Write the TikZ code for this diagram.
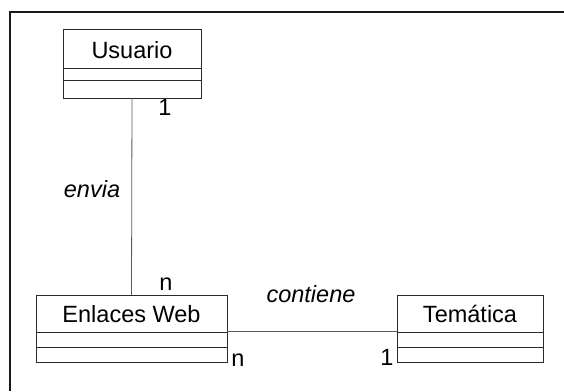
\documentclass[tikz,border=0pt]{standalone}
\usepackage{fontspec}
\setmainfont{Liberation Sans}
\usepackage{xcolor}
\usetikzlibrary{positioning,calc}
\definecolor{umlline}{HTML}{2A2A2A}
\definecolor{umlframe}{HTML}{1A1A1A}
\definecolor{umlassoc}{HTML}{5A5A5A}
\tikzset{
  classBox/.style={draw=umlline, line width=0.8pt, rectangle, inner sep=0pt, outer sep=0pt, anchor=base, font=\fontsize{23.5}{28}\selectfont},
  classRule/.style={draw=umlline, line width=0.9pt},
  assocLine/.style={draw=umlassoc, line width=0.8pt},
  multLabel/.style={anchor=base, inner sep=0pt, font=\fontsize{23.5}{28}\selectfont},
  roleLabel/.style={anchor=base, inner sep=0pt, font=\fontsize{23.5}{28}\selectfont\itshape}
}
\begin{document}
\begin{tikzpicture}[x=1pt,y=-1pt]
  \useasboundingbox (0,0) rectangle (564,391);
  \draw[draw=umlframe, line width=1.6pt] (10,391) -- (10,12) -- (564,12);
  \node[classBox, minimum width=138pt, text height=29pt, text depth=40pt] (usuario) at (132,58) {Usuario};
  \node[classBox, minimum width=191pt, text height=27pt, text depth=40pt] (enlaces) at (131.5,322) {Enlaces Web};
  \node[classBox, minimum width=146pt, text height=27pt, text depth=40pt] (tematica) at (470,322) {Temática};
  \draw[classRule] (usuario.west |- 0,68) -- (usuario.east |- 0,68);
  \draw[classRule] (usuario.west |- 0,80) -- (usuario.east |- 0,80);
  \draw[classRule] (enlaces.west |- 0,332) -- (enlaces.east |- 0,332);
  \draw[classRule] (enlaces.west |- 0,347) -- (enlaces.east |- 0,347);
  \draw[classRule] (tematica.west |- 0,332) -- (tematica.east |- 0,332);
  \draw[classRule] (tematica.west |- 0,347) -- (tematica.east |- 0,347);
  \draw[assocLine] (usuario.south) -- (enlaces.north);
  \draw[assocLine] ([yshift=-2.5pt]enlaces.east) -- ([yshift=-2.5pt]tematica.west);
  \node[multLabel] (multUsuario) at (165,115) {1};
  \node[multLabel] (multEnlacesTop) at (166,290) {n};
  \node[roleLabel] (envia) at (92,197) {envia};
  \node[roleLabel] (contiene) at (311,302) {contiene};
  \node[multLabel] (multEnlacesRight) at (238,366) {n};
  \node[multLabel] (multTematica) at (387,365) {1};
\end{tikzpicture}
\end{document}
